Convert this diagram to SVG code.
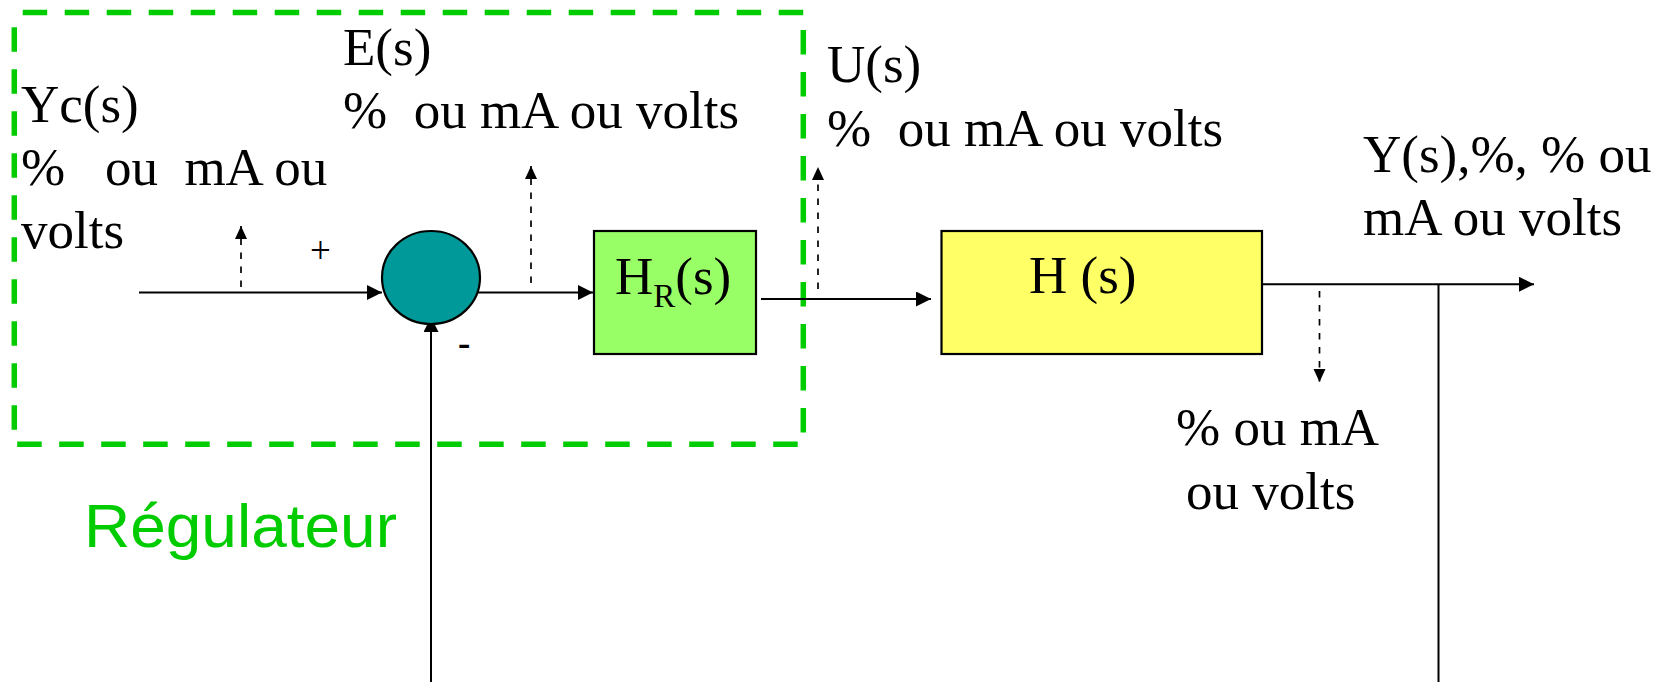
<svg xmlns="http://www.w3.org/2000/svg" width="1660" height="682" viewBox="0 0 1660 682">
  <defs>
    <marker id="arr" markerUnits="userSpaceOnUse" markerWidth="16" markerHeight="16" refX="15" refY="7.5" orient="auto">
      <path d="M0,0 L15,7.5 L0,15 z" fill="#000"/>
    </marker>
    <marker id="arrs" markerUnits="userSpaceOnUse" markerWidth="14" markerHeight="14" refX="13" refY="6" orient="auto">
      <path d="M0,0 L13,6 L0,12 z" fill="#000"/>
    </marker>
  </defs>
  <style>
    .t { font-family: "Liberation Serif", "Times New Roman", serif; font-size: 53px; fill: #000; white-space: pre; }
    .sub { font-size: 33px; }
    .line { stroke: #000; stroke-width: 2; fill: none; }
    .dot { stroke: #000; stroke-width: 1.7; fill: none; stroke-dasharray: 6.5 7.5; }
    .box { stroke: #000; stroke-width: 2.2; }
    .reg { font-family: "Liberation Sans", Arial, sans-serif; font-size: 61px; fill: #00CC00; }
  </style>
  <rect width="1660" height="682" fill="#fff"/>

  <g id="regulateur-frame">
    <path d="M14.3,12.5 H803.3 V444.3 H14.3 Z" fill="none" stroke="#00CC00" stroke-width="5.5" stroke-dasharray="24.5 17.5" stroke-dashoffset="33.6"/>
    <text class="reg" x="84" y="547" textLength="313" lengthAdjust="spacingAndGlyphs">Régulateur</text>
  </g>

  <g id="connectors">
    <path class="line" d="M139,292.5 H382" marker-end="url(#arr)"/>
    <path class="line" d="M473,292.5 H593" marker-end="url(#arr)"/>
    <path class="line" d="M761,299 H931" marker-end="url(#arr)"/>
    <path class="line" d="M1262,284.3 H1534" marker-end="url(#arr)"/>
    <path class="line" d="M1438.5,284.3 V682" stroke-width="1.8"/>
    <path class="line" d="M431,682 V317" stroke-width="1.8" marker-end="url(#arr)"/>
    <path class="dot" d="M241,287 V226" marker-end="url(#arrs)"/>
    <path class="dot" d="M531,283 V166" marker-end="url(#arrs)"/>
    <path class="dot" d="M818,289 V167" marker-end="url(#arrs)"/>
    <path class="dot" d="M1319.5,291 V382" marker-end="url(#arrs)"/>
  </g>

  <g id="sum">
    <ellipse cx="431" cy="277.5" rx="49" ry="46.5" fill="#009999" class="box"/>
    <text class="t" x="310" y="262.5" style="font-size:37px">+</text>
    <text class="t" x="458" y="355" style="font-size:37px;font-weight:bold">-</text>
  </g>

  <g id="hr">
    <rect x="594" y="231" width="162" height="123" fill="#99FF66" class="box"/>
    <text class="t" x="615" y="294">H<tspan class="sub" dy="13">R</tspan><tspan dy="-13">(s)</tspan></text>
  </g>

  <g id="h">
    <rect x="941.5" y="231" width="320.5" height="123" fill="#FFFF66" class="box"/>
    <text class="t" x="1029" y="293">H (s)</text>
  </g>

  <g id="yc-label">
    <text class="t" x="21" y="122">Yc(s)</text>
    <text class="t" x="21" y="185">%   ou  mA ou</text>
    <text class="t" x="21" y="248">volts</text>
  </g>

  <g id="e-label">
    <text class="t" x="343" y="65">E(s)</text>
    <text class="t" x="343" y="128">%  ou mA ou volts</text>
  </g>

  <g id="u-label">
    <text class="t" x="827" y="82">U(s)</text>
    <text class="t" x="827" y="146">%  ou mA ou volts</text>
  </g>

  <g id="y-label">
    <text class="t" x="1363" y="172">Y(s),%, % ou</text>
    <text class="t" x="1363" y="235">mA ou volts</text>
  </g>

  <g id="measure-label">
    <text class="t" x="1176" y="445">% ou mA</text>
    <text class="t" x="1186" y="509">ou volts</text>
  </g>
</svg>
